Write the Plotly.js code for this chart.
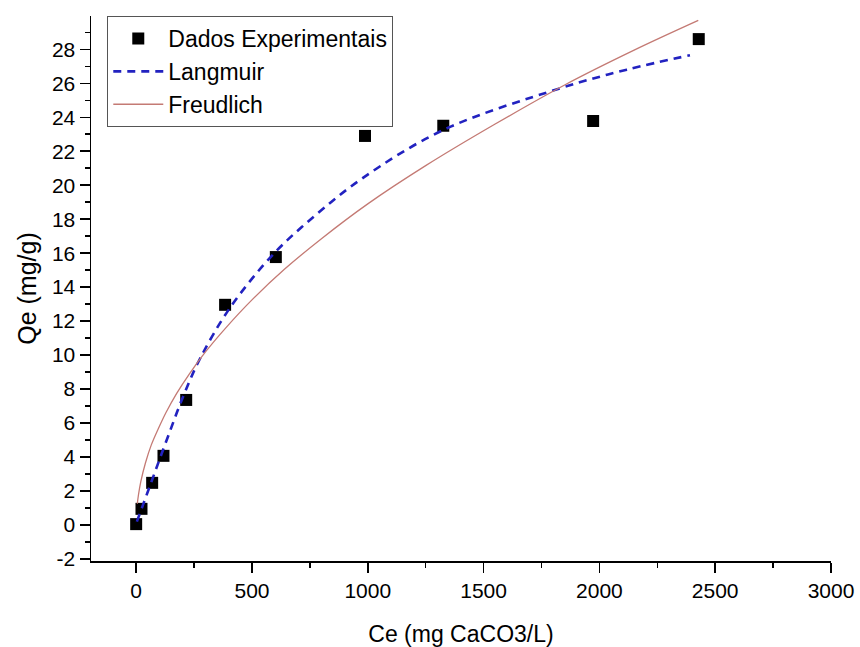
<!DOCTYPE html>
<html>
<head>
<meta charset="utf-8">
<script src="https://cdn.plot.ly/plotly-3.0.1.min.js"></script>
<style>html,body{margin:0;padding:0;background:#fff;}#chart{width:860px;height:647px;}</style>
</head>
<body>
<div id="chart"></div>
<script>
var dataCe = [0, 23, 69, 118, 216, 384, 603, 988, 1326, 1973, 2429];
var dataQe = [0.05, 0.95, 2.48, 4.07, 7.36, 12.96, 15.77, 22.9, 23.5, 23.78, 28.6];

// Langmuir fitted curve
var langCe = [3, 30, 82, 140, 204, 276, 406, 593, 780, 981, 1326, 1830, 2118, 2391];
var langQe = [0.2, 1.2, 3.15, 5.3, 7.6, 9.8, 12.8, 15.95, 18.3, 20.45, 23.25, 25.7, 26.8, 27.65];

// Freundlich fitted curve
var freuCe = [5, 10, 20, 40, 65, 95, 130, 175, 230, 300, 390, 500, 640, 800, 1000, 1250, 1550, 1850, 2150, 2427];
var freuQe = [1.25, 1.78, 2.55, 3.65, 4.7, 5.65, 6.65, 7.75, 8.9, 10.2, 11.65, 13.25, 15.05, 16.85, 18.9, 21.15, 23.6, 25.9, 27.95, 29.7];

var xTickVals = [0, 500, 1000, 1500, 2000, 2500, 3000];
var yTickVals = [-2, 0, 2, 4, 6, 8, 10, 12, 14, 16, 18, 20, 22, 24, 26, 28];

var FONT = 'Liberation Sans, Arial, sans-serif';

var traces = [
  {
    x: dataCe, y: dataQe, type: 'scatter', mode: 'markers', name: 'Dados Experimentais',
    marker: {symbol: 'square', size: 12, color: '#000000', line: {width: 0}}
  },
  {
    x: langCe, y: langQe, type: 'scatter', mode: 'lines', name: 'Langmuir',
    line: {color: '#2222c0', width: 2.6, dash: '8px,6px', shape: 'spline', smoothing: 1}
  },
  {
    x: freuCe, y: freuQe, type: 'scatter', mode: 'lines', name: 'Freudlich',
    line: {color: '#c47a74', width: 1.3, shape: 'spline', smoothing: 1}
  }
];

var layout = {
  width: 860, height: 647,
  margin: {l: 91, r: 29, t: 16, b: 86, pad: 0},
  paper_bgcolor: '#ffffff', plot_bgcolor: '#ffffff',
  font: {family: FONT, size: 21, color: '#000'},
  showlegend: true,
  legend: {
    x: 0.022, y: 1, xanchor: 'left', yanchor: 'top',
    bordercolor: '#555555', borderwidth: 1, bgcolor: '#ffffff',
    font: {family: FONT, size: 23, color: '#000'},
    itemwidth: 50, tracegroupgap: 0
  },
  xaxis: {
    range: [-195, 3000], autorange: false,
    tickmode: 'array', tickvals: xTickVals, ticktext: xTickVals.map(String),
    ticks: 'outside', ticklen: 10, tickwidth: 1.5, tickcolor: '#000',
    minor: {ticks: 'outside', dtick: 250, tick0: 0, ticklen: 5, tickwidth: 1.5, tickcolor: '#000', showgrid: false},
    showline: true, linecolor: '#000', linewidth: 1.5, mirror: false,
    showgrid: false, zeroline: false,
    tickfont: {family: FONT, size: 21, color: '#000'},
    title: {text: 'Ce (mg CaCO3/L)', font: {family: FONT, size: 23, color: '#000'}, standoff: 25},
    automargin: false
  },
  yaxis: {
    range: [-2.12, 29.96], autorange: false,
    tickmode: 'array', tickvals: yTickVals, ticktext: yTickVals.map(String),
    ticks: 'outside', ticklen: 10, tickwidth: 1.5, tickcolor: '#000',
    minor: {ticks: 'outside', dtick: 1, tick0: 0, ticklen: 5, tickwidth: 1.5, tickcolor: '#000', showgrid: false},
    showline: true, linecolor: '#000', linewidth: 1.5, mirror: false,
    showgrid: false, zeroline: false,
    tickfont: {family: FONT, size: 21, color: '#000'},
    title: {text: 'Qe (mg/g)', font: {family: FONT, size: 25, color: '#000'}, standoff: 8},
    automargin: false
  }
};

Plotly.newPlot('chart', traces, layout, {displayModeBar: false, staticPlot: true});
</script>
</body>
</html>
